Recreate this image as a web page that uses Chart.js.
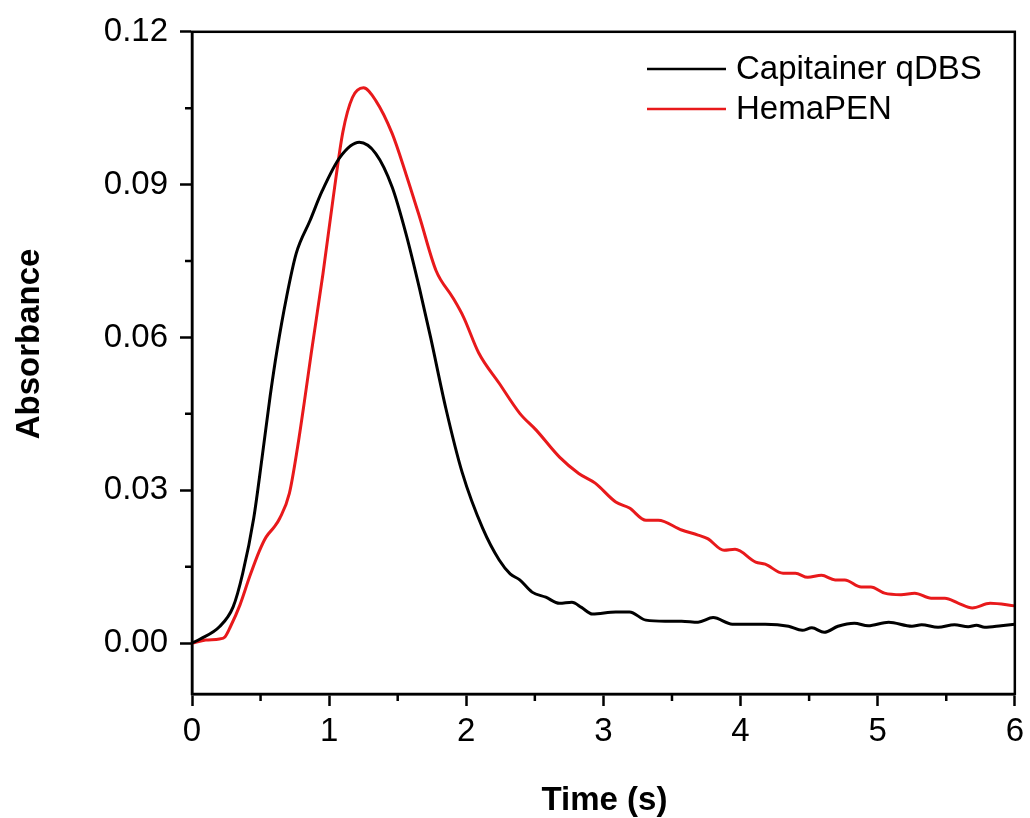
<!DOCTYPE html>
<html>
<head>
<meta charset="utf-8">
<title>Absorbance vs time</title>
<script src="https://cdn.jsdelivr.net/npm/chart.js@4.4.0/dist/chart.umd.min.js"></script>
<style>
    html, body { margin: 0; padding: 0; background: #ffffff; }
    canvas { display: block; }
</style>
</head>
<body>
<canvas id="absChart" width="1030" height="818"></canvas>
<script>
// Capitainer qDBS trace (black)
const capTime = [0, 0.06, 0.2, 0.3, 0.37, 0.45, 0.51, 0.57, 0.62, 0.69, 0.76, 0.86, 0.95, 1.08, 1.22, 1.34,
    1.46, 1.56, 1.66, 1.74, 1.85, 1.97, 2.12, 2.24, 2.32, 2.39, 2.48, 2.58, 2.68, 2.77, 2.84, 2.92,
    3.09, 3.19, 3.31, 3.45, 3.57, 3.69, 3.8, 3.94, 4.18, 4.35, 4.45, 4.52, 4.61, 4.71, 4.83, 4.93,
    5.08, 5.25, 5.32, 5.44, 5.56, 5.66, 5.72, 5.78, 5.9, 6.0];
const capAbs = [0, 0.0008, 0.0032, 0.0071, 0.0137, 0.0245, 0.0362, 0.0485, 0.0575, 0.068, 0.0765, 0.0829, 0.0888, 0.0954, 0.0983, 0.0961,
    0.0895, 0.0804, 0.0695, 0.0600, 0.0462, 0.0335, 0.0225, 0.0163, 0.0136, 0.0124, 0.0100, 0.0090, 0.0078, 0.0080, 0.0070, 0.0057,
    0.0061, 0.0061, 0.0045, 0.0043, 0.0043, 0.0041, 0.0050, 0.0037, 0.0037, 0.0033, 0.0025, 0.0030, 0.0021, 0.0033, 0.0039, 0.0034,
    0.0041, 0.0033, 0.0036, 0.0031, 0.0036, 0.0032, 0.0035, 0.0031, 0.0034, 0.0037];

// HemaPEN trace (red)
const hemaTime = [0, 0.1, 0.2, 0.24, 0.28, 0.35, 0.42, 0.49, 0.54, 0.6, 0.64, 0.71, 0.77, 0.82, 0.87, 0.955,
    1.03, 1.1, 1.17, 1.25, 1.34, 1.46, 1.56, 1.66, 1.78, 1.9, 1.98, 2.09, 2.24, 2.39, 2.51, 2.68,
    2.82, 2.94, 3.09, 3.19, 3.31, 3.4, 3.57, 3.69, 3.76, 3.88, 3.96, 4.11, 4.18, 4.31, 4.4, 4.49,
    4.59, 4.69, 4.76, 4.88, 4.95, 5.05, 5.17, 5.27, 5.39, 5.49, 5.59, 5.69, 5.82, 6.0];
const hemaAbs = [0, 0.0006, 0.0008, 0.0012, 0.0032, 0.0075, 0.013, 0.018, 0.0208, 0.0228, 0.0245, 0.0294, 0.0385, 0.0475, 0.057, 0.0725,
    0.0875, 0.1003, 0.1071, 0.109, 0.1065, 0.100, 0.0921, 0.0836, 0.0731, 0.0679, 0.064, 0.057, 0.051, 0.0451, 0.0418, 0.0365,
    0.0333, 0.0314, 0.0277, 0.0265, 0.0241, 0.0241, 0.0222, 0.0212, 0.0205, 0.0182, 0.0184, 0.0159, 0.0155, 0.0137, 0.0137, 0.0129,
    0.0133, 0.0124, 0.0124, 0.011, 0.011, 0.0098, 0.0095, 0.0098, 0.0088, 0.0088, 0.0078, 0.0069, 0.0078, 0.0073];

// 坐标轴刻度
const xTicks = [0, 1, 2, 3, 4, 5, 6];
const xMinorTicks = [0.5, 1.5, 2.5, 3.5, 4.5, 5.5];
const yTicks = [0, 0.03, 0.06, 0.09, 0.12];
const yMinorTicks = [0.015, 0.045, 0.075, 0.105];

const seriesLabels = ['Capitainer qDBS', 'HemaPEN'];
const seriesColors = ['#000000', '#e8191b'];

const FONT = '"Liberation Sans", Arial, sans-serif';

function toPoints(xs, ys) {
    return xs.map((x, i) => ({ x: x, y: ys[i] }));
}

/** 外框 + 次刻度 */
const framePlugin = {
    id: 'frame',
    afterDraw(chart) {
        const ctx = chart.ctx;
        const a = chart.chartArea;
        const xs = chart.scales.x;
        const ys = chart.scales.y;
        ctx.save();
        ctx.strokeStyle = '#000';
        ctx.lineWidth = 2.5;
        ctx.strokeRect(a.left, a.top, a.right - a.left, a.bottom - a.top);
        ctx.beginPath();
        xMinorTicks.forEach(v => {
            const px = xs.getPixelForValue(v);
            ctx.moveTo(px, a.bottom);
            ctx.lineTo(px, a.bottom + 7);
        });
        yMinorTicks.forEach(v => {
            const py = ys.getPixelForValue(v);
            ctx.moveTo(a.left, py);
            ctx.lineTo(a.left - 7, py);
        });
        ctx.stroke();
        ctx.restore();
    }
};

/** 坐标轴标题 */
const axisTitlePlugin = {
    id: 'axisTitles',
    afterDraw(chart) {
        const ctx = chart.ctx;
        const a = chart.chartArea;
        ctx.save();
        ctx.fillStyle = '#000';
        ctx.font = 'bold 33px ' + FONT;
        ctx.textAlign = 'center';
        ctx.textBaseline = 'middle';
        ctx.fillText('Time (s)', (a.left + a.right) / 2 + 1, 801);
        ctx.translate(30, 344);
        ctx.rotate(-Math.PI / 2);
        ctx.fillText('Absorbance', 0, 0);
        ctx.restore();
    }
};

/** 图例（图内右上角） */
const legendPlugin = {
    id: 'innerLegend',
    afterDraw(chart) {
        const ctx = chart.ctx;
        ctx.save();
        ctx.font = '33px ' + FONT;
        ctx.textBaseline = 'middle';
        ctx.textAlign = 'left';
        chart.data.datasets.forEach((ds, i) => {
            const y = 69 + i * 40;
            ctx.strokeStyle = ds.borderColor;
            ctx.lineWidth = 2.5;
            ctx.beginPath();
            ctx.moveTo(647, y);
            ctx.lineTo(726, y);
            ctx.stroke();
            ctx.fillStyle = '#000';
            ctx.fillText(ds.label, 736, y + 1);
        });
        ctx.restore();
    }
};

const ctx = document.getElementById('absChart');

new Chart(ctx, {
    type: 'line',
    data: {
        datasets: [
            {
                label: seriesLabels[0],
                data: toPoints(capTime, capAbs),
                borderColor: seriesColors[0],
                borderWidth: 3,
                pointRadius: 0,
                cubicInterpolationMode: 'monotone',
                fill: false
            },
            {
                label: seriesLabels[1],
                data: toPoints(hemaTime, hemaAbs),
                borderColor: seriesColors[1],
                borderWidth: 3,
                pointRadius: 0,
                cubicInterpolationMode: 'monotone',
                fill: false
            }
        ]
    },
    options: {
        responsive: false,
        animation: false,
        devicePixelRatio: 1,
        layout: {
            padding: { left: 0, right: 13, top: 31, bottom: 0 }
        },
        plugins: {
            legend: { display: false },
            tooltip: { enabled: false }
        },
        scales: {
            x: {
                type: 'linear',
                min: 0,
                max: 6,
                afterFit(scale) { scale.height = 124; },
                afterBuildTicks(scale) { scale.ticks = xTicks.map(v => ({ value: v })); },
                grid: {
                    drawOnChartArea: false,
                    drawTicks: true,
                    tickLength: 12,
                    tickWidth: 2.5,
                    tickColor: '#000'
                },
                border: { display: true, color: '#000', width: 2.5 },
                ticks: {
                    color: '#000',
                    padding: 6,
                    maxRotation: 0,
                    font: { family: FONT, size: 33 },
                    callback: v => String(v)
                }
            },
            y: {
                type: 'linear',
                min: -0.01,
                max: 0.12,
                afterFit(scale) { scale.width = 192; },
                afterBuildTicks(scale) { scale.ticks = yTicks.map(v => ({ value: v })); },
                grid: {
                    drawOnChartArea: false,
                    drawTicks: true,
                    tickLength: 12,
                    tickWidth: 2.5,
                    tickColor: '#000'
                },
                border: { display: true, color: '#000', width: 2.5 },
                ticks: {
                    color: '#000',
                    padding: 12,
                    font: { family: FONT, size: 33 },
                    callback: v => v.toFixed(2)
                }
            }
        }
    },
    plugins: [framePlugin, axisTitlePlugin, legendPlugin]
});
</script>
</body>
</html>
